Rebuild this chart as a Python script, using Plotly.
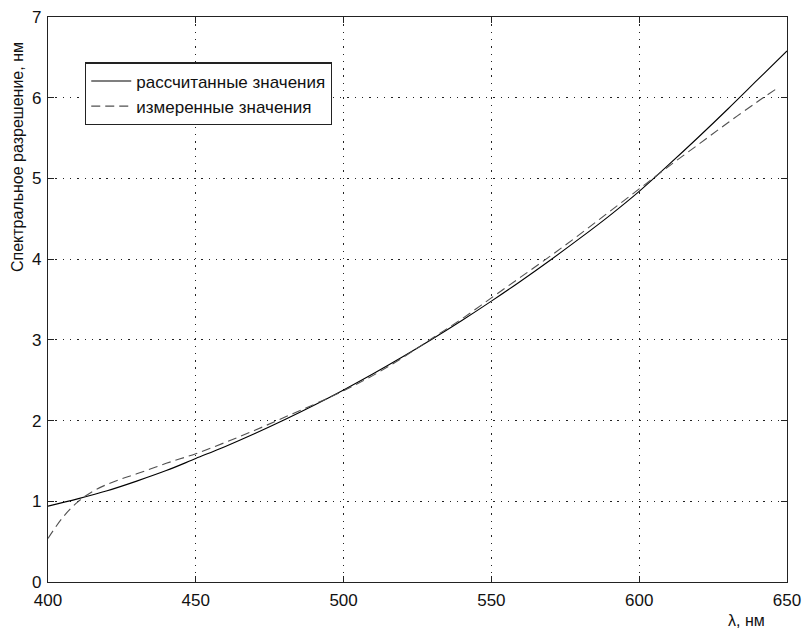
import plotly.graph_objects as go

wl_calc = [400, 410, 420, 430, 440, 450, 460, 470, 480, 490, 500, 510, 520, 530,
           540, 550, 560, 570, 580, 590, 600, 610, 620, 630, 640, 650]
res_calc = [0.94, 1.03, 1.13, 1.25, 1.38, 1.53, 1.68, 1.84, 2.01, 2.19, 2.38, 2.58,
            2.79, 3.01, 3.24, 3.48, 3.73, 3.99, 4.26, 4.54, 4.84, 5.17, 5.51, 5.86,
            6.22, 6.58]

wl_meas = [400, 405, 410, 415, 420, 425, 430, 440, 450, 460, 470, 480, 490, 500, 510,
           520, 530, 540, 550, 560, 570, 580, 590, 600, 610, 620, 630, 640, 646]
res_meas = [0.54, 0.80, 0.99, 1.12, 1.21, 1.28, 1.34, 1.47, 1.59, 1.73, 1.88, 2.04, 2.20,
            2.37, 2.56, 2.78, 3.02, 3.26, 3.52, 3.78, 4.04, 4.31, 4.59, 4.87, 5.15,
            5.42, 5.69, 5.95, 6.10]

x_ticks = [400, 450, 500, 550, 600, 650]
y_ticks = [0, 1, 2, 3, 4, 5, 6, 7]

FONT = "Liberation Sans, Arial, Helvetica"

fig = go.Figure()
fig.add_trace(go.Scatter(x=wl_calc, y=res_calc, mode="lines", line_shape="spline",
                         name="рассчитанные значения",
                         line=dict(color="black", width=1.1)))
fig.add_trace(go.Scatter(x=wl_meas, y=res_meas, mode="lines", line_shape="spline",
                         name="измеренные значения",
                         line=dict(color="#505050", width=1.1, dash="9px,5px")))

axis_common = dict(showline=True, linecolor="#222222", linewidth=1.3, mirror="ticks",
                   ticks="inside", ticklen=6, tickcolor="#222222", tickwidth=1.3,
                   showgrid=True, gridcolor="#222222", gridwidth=1.4,
                   griddash="1.4px,5.9px",
                   zeroline=False, automargin=False, ticklabeloverflow="allow",
                   tickfont=dict(family=FONT, size=17, color="#111111"))

fig.update_xaxes(range=[400, 650], tickvals=x_ticks, ticklabelstandoff=2, **axis_common)
fig.update_yaxes(range=[0, 7], tickvals=y_ticks, ticklabelstandoff=2, **axis_common)

fig.add_annotation(text="Спектральное разрешение, нм", xref="paper", yref="paper",
                   x=-0.042, y=0.752, textangle=-90, showarrow=False,
                   xanchor="center", yanchor="middle",
                   font=dict(family=FONT, size=16, color="#111111"))

fig.add_annotation(text="λ, нм", xref="paper", yref="paper", x=0.945, y=-0.068,
                   showarrow=False, xanchor="center", yanchor="middle",
                   font=dict(family=FONT, size=16, color="#111111"))

fig.update_layout(
    width=805, height=629,
    margin=dict(l=48, r=18, t=17, b=47),
    plot_bgcolor="white", paper_bgcolor="white",
    showlegend=True,
    legend=dict(x=0.05, y=0.92, xanchor="left", yanchor="top",
                bgcolor="white", bordercolor="#222222", borderwidth=1.3,
                font=dict(family=FONT, size=17, color="#111111"),
                tracegroupgap=0, itemwidth=40),
)

fig.write_html("out.html",
               config={"displayModeBar": False},
               post_script="document.body.style.margin='0';"
                           "document.body.style.overflow='hidden';")
